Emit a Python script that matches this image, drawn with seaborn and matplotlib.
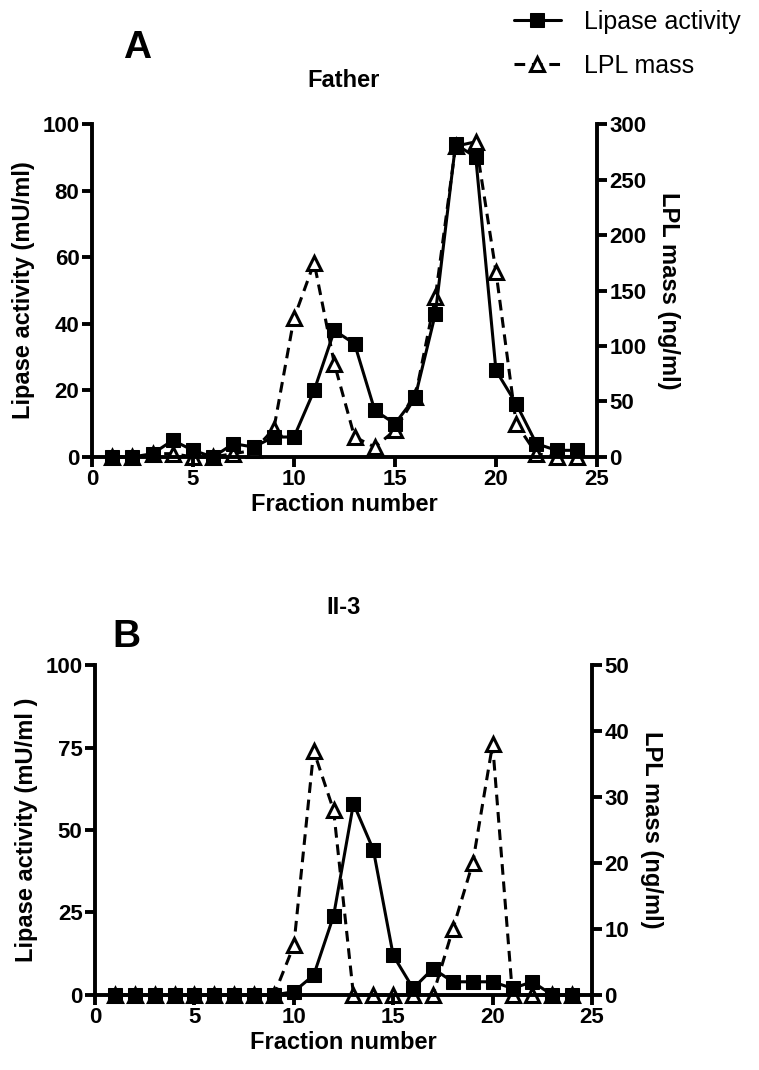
import matplotlib
matplotlib.use('Agg')
import matplotlib.pyplot as plt
import seaborn as sns

fractions = list(range(1, 25))
father_activity = [0, 0, 1, 5, 2, 0, 4, 3, 6, 6, 20, 38, 34, 14, 10, 18, 43, 94, 90, 26, 16, 4, 2, 2]
father_mass = [0, 0, 3, 3, 0, 0, 3, 6, 25, 125, 175, 84, 18, 9, 24, 54, 144, 280, 284, 167, 30, 3, 0, 0]
ii3_activity = [0, 0, 0, 0, 0, 0, 0, 0, 0, 1, 6, 24, 58, 44, 12, 2, 8, 4, 4, 4, 2, 4, 0, 0]
ii3_mass = [0, 0, 0, 0, 0, 0, 0, 0, 0, 7.5, 37, 28, 0, 0, 0, 0, 0, 10, 20, 38, 0, 0, 0, 0]

x_ticks = [0, 5, 10, 15, 20, 25]
father_left_ticks = [0, 20, 40, 60, 80, 100]
father_right_ticks = [0, 50, 100, 150, 200, 250, 300]
ii3_left_ticks = [0, 25, 50, 75, 100]
ii3_right_ticks = [0, 10, 20, 30, 40, 50]

sns.set_style('ticks')
plt.rcParams['font.family'] = ['Liberation Sans', 'DejaVu Sans']
plt.rcParams['font.weight'] = 'bold'
for key in ['text.color', 'axes.labelcolor', 'xtick.color', 'ytick.color', 'axes.edgecolor']:
    plt.rcParams[key] = 'black'

fig = plt.figure(figsize=(7.59, 10.7), dpi=100)

TICK_FS = 16
LABEL_FS = 17
LW_SPINE = 2.8


def panel(rect, act, mass, lticks, rticks, title, letter, left_label, letter_xy, title_xy):
    ax = fig.add_axes(rect)
    ax2 = ax.twinx()
    sns.lineplot(x=fractions, y=act, ax=ax, color='black', marker='s', markersize=9.5,
                 linewidth=2.2, linestyle='-', markeredgecolor='black',
                 markerfacecolor='black', clip_on=False, legend=False)
    sns.lineplot(x=fractions, y=mass, ax=ax2, color='black', marker='^', markersize=10.5,
                 linewidth=2.2, linestyle=(0, (3.5, 2.2)), markerfacecolor='white',
                 markeredgecolor='black', markeredgewidth=2.2, clip_on=False, legend=False)
    ax.set_zorder(ax2.get_zorder() + 1)
    ax.patch.set_visible(False)

    ax.set_xlim(0, 25)
    ax.set_ylim(lticks[0], lticks[-1])
    ax2.set_ylim(rticks[0], rticks[-1])
    ax.set_xticks(x_ticks)
    ax.set_yticks(lticks)
    ax2.set_yticks(rticks)

    for a in (ax, ax2):
        a.spines['top'].set_visible(False)
        for s in a.spines.values():
            s.set_linewidth(LW_SPINE)
            s.set_color('black')
        a.tick_params(width=LW_SPINE, length=7, direction='out', labelsize=TICK_FS,
                      pad=2, color='black', labelcolor='black')
        for lab in a.get_xticklabels() + a.get_yticklabels():
            lab.set_fontweight('bold')
    ax.spines['right'].set_visible(False)
    ax2.spines['left'].set_visible(False)
    ax2.spines['bottom'].set_visible(False)

    ax.set_xlabel('Fraction number', fontsize=LABEL_FS, fontweight='bold', labelpad=2,
                  color='black')
    ax.set_ylabel(left_label, fontsize=LABEL_FS, fontweight='bold', labelpad=5,
                  color='black')
    ax2.set_ylabel('LPL mass (ng/ml)', fontsize=LABEL_FS, fontweight='bold',
                   rotation=270, labelpad=24, color='black')

    fig.text(letter_xy[0], letter_xy[1], letter, fontsize=28, fontweight='bold',
             ha='center', va='center', color='black')
    fig.text(title_xy[0], title_xy[1], title, fontsize=17, fontweight='bold',
             ha='center', va='center', color='black')
    return ax, ax2


axA, axA2 = panel([0.1212, 0.5729, 0.6653, 0.3112], father_activity, father_mass,
                  father_left_ticks, father_right_ticks, 'Father', 'A',
                  'Lipase activity (mU/ml)', (0.180, 0.955), (0.452, 0.925))
axB, axB2 = panel([0.1252, 0.0701, 0.6548, 0.3084], ii3_activity, ii3_mass,
                  ii3_left_ticks, ii3_right_ticks, 'II-3', 'B',
                  'Lipase activity (mU/ml )', (0.166, 0.405), (0.452, 0.432))

handles = [axA.lines[0], axA2.lines[0]]
fig.legend(handles, ['Lipase activity', 'LPL mass'], loc='upper right',
           bbox_to_anchor=(1.005, 1.012), frameon=False,
           prop={'size': 18, 'weight': 'normal'}, handlelength=1.9,
           labelspacing=0.8, handletextpad=0.9, labelcolor='black')

fig.savefig('out.png', dpi=100)
